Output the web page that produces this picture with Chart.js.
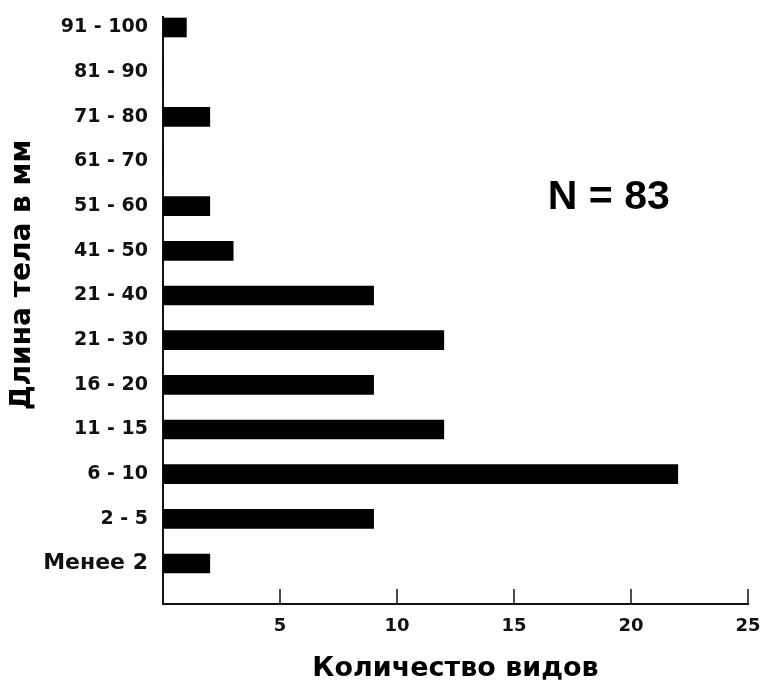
<!DOCTYPE html>
<html>
<head>
<meta charset="utf-8">
<script src="https://cdn.jsdelivr.net/npm/chart.js@4/dist/chart.umd.min.js"></script>
<style>
  html, body { margin: 0; padding: 0; background: #fff; }
  #wrap { width: 767px; height: 688px; position: relative; }
</style>
</head>
<body>
<div id="wrap"><canvas id="c" width="767" height="688"></canvas></div>
<script>
// Categories from bottom to top
const categories = ["Менее 2", "2 - 5", "6 - 10", "11 - 15", "16 - 20", "21 - 30", "21 - 40", "41 - 50", "51 - 60", "61 - 70", "71 - 80", "81 - 90", "91 - 100"];
const speciesCount = [2, 9, 22, 12, 9, 12, 9, 3, 2, 0, 2, 0, 1];
const xTickValues = [5, 10, 15, 20, 25];
const xAxisTitle = "Количество видов";
const yAxisTitle = "Длина тела в мм";
const annotationText = "N = 83";

const points = speciesCount.map((v, i) => ({ x: v, y: i }));

const innerTicks = {
  id: 'innerTicks',
  afterDraw(chart) {
    const ctx = chart.ctx;
    const xs = chart.scales.x;
    const yb = chart.chartArea.bottom;
    ctx.save();
    ctx.strokeStyle = '#111';
    ctx.lineWidth = 1.5;
    xTickValues.forEach(v => {
      const px = xs.getPixelForValue(v);
      ctx.beginPath();
      ctx.moveTo(px, yb);
      ctx.lineTo(px, yb - 15);
      ctx.stroke();
    });
    ctx.restore();
  }
};

const textLabels = {
  id: 'textLabels',
  afterDraw(chart) {
    const ctx = chart.ctx;
    ctx.save();
    ctx.fillStyle = '#000';
    ctx.translate(23, 275);
    ctx.rotate(-Math.PI / 2);
    ctx.font = 'bold 28px "DejaVu Sans"';
    ctx.textAlign = 'center';
    ctx.textBaseline = 'middle';
    ctx.fillText(yAxisTitle, 0, 0);
    ctx.restore();
    ctx.save();
    ctx.fillStyle = '#000';
    ctx.font = 'bold 41px "Liberation Sans"';
    ctx.textAlign = 'center';
    ctx.textBaseline = 'middle';
    const xs = chart.scales.x, ys = chart.scales.y;
    ctx.fillText(annotationText, xs.getPixelForValue(19.05), ys.getPixelForValue(8.2));
    ctx.restore();
  }
};

new Chart(document.getElementById('c'), {
  type: 'bar',
  data: {
    datasets: [{
      data: points,
      backgroundColor: '#000',
      borderWidth: 0,
      barThickness: 19
    }]
  },
  options: {
    indexAxis: 'y',
    responsive: false,
    animation: false,
    layout: { padding: { top: 17, right: 19, bottom: 0, left: 0 } },
    plugins: { legend: { display: false }, tooltip: { enabled: false } },
    scales: {
      x: {
        type: 'linear',
        min: 0,
        max: 25,
        afterFit(scale) { scale.height = 84; scale.paddingLeft = 0; scale.paddingRight = 0; },
        grid: { display: false, drawTicks: false },
        border: { display: true, color: '#111', width: 2 },
        ticks: {
          stepSize: 5,
          padding: 12,
          color: '#111',
          font: { family: 'DejaVu Sans', weight: 'bold', size: 18 },
          callback: v => (v === 0 ? '' : String(v))
        },
        title: {
          display: true,
          text: xAxisTitle,
          color: '#000',
          font: { family: 'DejaVu Sans', weight: 'bold', size: 27 },
          padding: { top: 0, bottom: 3 }
        }
      },
      y: {
        type: 'linear',
        offset: false,
        min: -0.907,
        max: 12.235,
        afterFit(scale) { scale.width = 163; scale.paddingTop = 0; scale.paddingBottom = 0; },
        grid: { display: false, drawTicks: false },
        border: { display: true, color: '#111', width: 2 },
        ticks: {
          stepSize: 1,
          includeBounds: false,
          autoSkip: false,
          padding: 15,
          color: '#111',
          font: ctx => ({ family: 'DejaVu Sans', weight: 'bold', size: (ctx.tick && ctx.tick.value === 0) ? 22 : 19 }),
          callback: v => (Number.isInteger(v) && categories[v] !== undefined ? categories[v] : '')
        }
      }
    }
  },
  plugins: [innerTicks, textLabels]
});
</script>
</body>
</html>
